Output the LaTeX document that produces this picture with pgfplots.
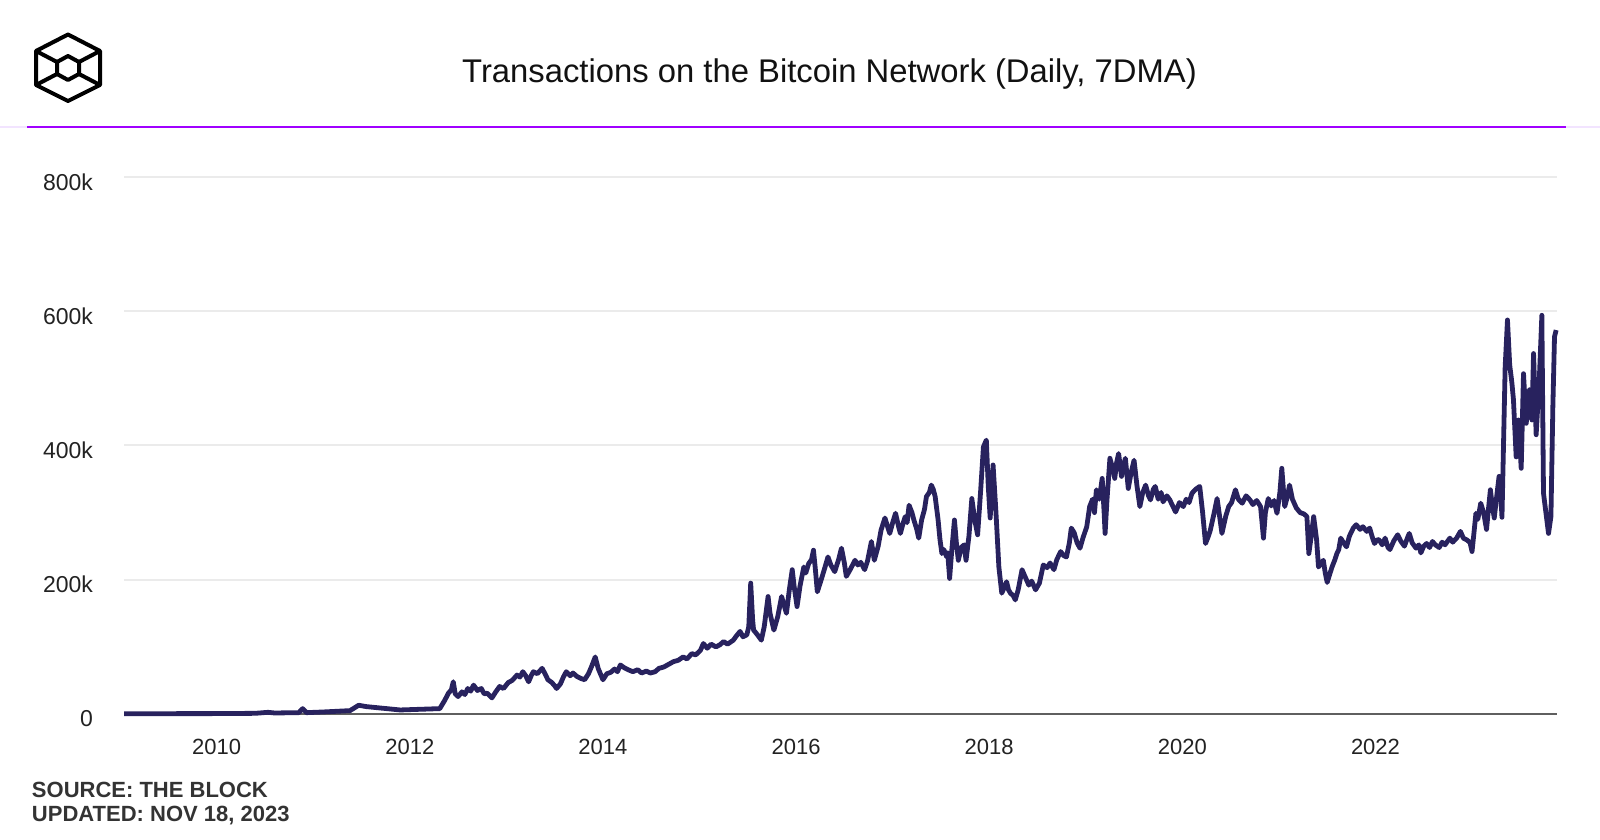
\documentclass[border=0pt]{standalone}
\usepackage{fontspec}
\setmainfont{Liberation Sans}
\usepackage{pgfplots}
\pgfplotsset{compat=1.18}
\definecolor{linecol}{RGB}{40,34,94}
\definecolor{gridcol}{RGB}{235,235,235}
\definecolor{axiscol}{RGB}{95,95,95}
\definecolor{tickcol}{RGB}{34,34,34}
\definecolor{titlecol}{RGB}{17,17,17}
\definecolor{srccol}{RGB}{51,51,51}
\definecolor{purp}{RGB}{160,0,255}
\definecolor{purpfaint}{RGB}{242,228,255}
\pgfplotstableread{
x y
2009.04 0.5
2009.5 0.5
2010.0 0.6
2010.4 1.0
2010.53 2.5
2010.6 1.5
2010.85 2
2010.89 8
2010.93 2
2011.1 3
2011.38 5
2011.47 13
2011.55 11
2011.9 6
2012.31 8
2012.36 20
2012.40 31
2012.43 36
2012.45 48
2012.47 30
2012.50 26
2012.54 33
2012.57 29
2012.60 38
2012.63 34
2012.66 43
2012.70 35
2012.74 38
2012.77 30
2012.80 31
2012.83 27
2012.85 24
2012.89 33
2012.93 41
2012.97 38
2013.02 47
2013.06 50
2013.11 58
2013.14 55
2013.17 63
2013.20 57
2013.23 48
2013.26 58
2013.28 63
2013.32 60
2013.37 68
2013.40 60
2013.43 51
2013.47 47
2013.50 42
2013.52 38
2013.56 45
2013.59 55
2013.62 63
2013.66 57
2013.69 61
2013.73 56
2013.77 53
2013.81 51
2013.85 60
2013.88 70
2013.92 85
2013.95 68
2014.00 51
2014.04 60
2014.08 62
2014.12 67
2014.15 63
2014.18 73
2014.22 69
2014.26 66
2014.31 63
2014.36 66
2014.40 61
2014.45 64
2014.49 61
2014.54 63
2014.58 68
2014.63 70
2014.68 74
2014.73 78
2014.78 80
2014.83 85
2014.87 82
2014.92 90
2014.96 88
2015.01 95
2015.04 105
2015.08 98
2015.12 104
2015.17 100
2015.21 103
2015.25 108
2015.29 104
2015.35 110
2015.38 116
2015.42 123
2015.45 115
2015.49 118
2015.51 130
2015.53 195
2015.55 140
2015.56 125
2015.60 118
2015.64 110
2015.67 130
2015.71 175
2015.73 150
2015.77 125
2015.81 145
2015.85 175
2015.88 160
2015.90 150
2015.93 185
2015.96 215
2015.98 190
2016.01 160
2016.04 190
2016.08 219
2016.10 210
2016.13 224
2016.16 230
2016.18 244
2016.20 215
2016.22 182
2016.26 200
2016.30 219
2016.33 234
2016.36 222
2016.40 212
2016.44 230
2016.47 247
2016.50 225
2016.52 205
2016.56 215
2016.61 229
2016.64 222
2016.67 226
2016.71 215
2016.74 228
2016.78 257
2016.81 229
2016.85 250
2016.88 274
2016.92 292
2016.95 278
2016.97 269
2017.00 285
2017.03 299
2017.06 280
2017.08 269
2017.11 285
2017.13 294
2017.15 285
2017.17 311
2017.20 300
2017.22 289
2017.25 275
2017.27 262
2017.30 289
2017.33 305
2017.35 324
2017.38 330
2017.40 341
2017.42 335
2017.44 324
2017.47 290
2017.49 260
2017.51 239
2017.53 245
2017.56 234
2017.57 240
2017.59 202
2017.61 240
2017.64 289
2017.66 255
2017.68 229
2017.71 248
2017.74 252
2017.76 229
2017.79 265
2017.82 321
2017.84 300
2017.85 289
2017.88 267
2017.91 330
2017.94 398
2017.97 408
2017.99 340
2018.01 292
2018.04 371
2018.07 300
2018.10 219
2018.13 180
2018.16 190
2018.18 197
2018.20 185
2018.22 180
2018.25 176
2018.27 170
2018.30 185
2018.34 215
2018.37 205
2018.41 192
2018.44 198
2018.48 185
2018.52 195
2018.56 222
2018.60 218
2018.63 225
2018.67 215
2018.70 230
2018.74 242
2018.77 236
2018.80 234
2018.83 255
2018.85 277
2018.88 270
2018.91 255
2018.94 247
2018.97 262
2019.01 279
2019.04 309
2019.07 320
2019.09 300
2019.11 334
2019.14 320
2019.17 351
2019.19 300
2019.20 269
2019.22 320
2019.25 381
2019.28 365
2019.30 351
2019.32 375
2019.34 388
2019.37 354
2019.39 370
2019.41 381
2019.44 336
2019.47 360
2019.50 378
2019.53 340
2019.56 309
2019.59 330
2019.62 341
2019.65 325
2019.67 319
2019.70 335
2019.72 339
2019.75 320
2019.78 330
2019.80 316
2019.84 325
2019.87 319
2019.90 310
2019.93 301
2019.97 315
2020.01 309
2020.04 320
2020.07 315
2020.10 329
2020.14 335
2020.18 339
2020.21 300
2020.24 254
2020.27 265
2020.29 274
2020.33 300
2020.36 321
2020.39 290
2020.41 269
2020.45 295
2020.48 309
2020.51 315
2020.55 334
2020.58 320
2020.62 314
2020.66 325
2020.70 319
2020.73 312
2020.77 318
2020.81 309
2020.84 262
2020.86 300
2020.89 321
2020.92 310
2020.95 318
2020.98 299
2021.01 330
2021.03 366
2021.06 309
2021.09 325
2021.11 341
2021.14 320
2021.18 307
2021.22 300
2021.26 298
2021.29 294
2021.31 239
2021.33 260
2021.36 294
2021.39 260
2021.41 219
2021.44 225
2021.46 229
2021.48 210
2021.50 196
2021.53 210
2021.55 219
2021.58 230
2021.60 239
2021.62 245
2021.64 262
2021.67 255
2021.70 249
2021.73 265
2021.77 277
2021.80 282
2021.84 275
2021.87 279
2021.91 272
2021.94 277
2021.97 262
2021.99 254
2022.02 260
2022.04 259
2022.07 252
2022.10 262
2022.13 248
2022.15 245
2022.19 258
2022.23 267
2022.26 258
2022.30 250
2022.33 262
2022.35 269
2022.38 255
2022.42 247
2022.45 252
2022.47 240
2022.50 250
2022.53 254
2022.56 248
2022.59 257
2022.62 252
2022.66 248
2022.69 256
2022.72 252
2022.75 258
2022.77 262
2022.80 256
2022.84 262
2022.88 272
2022.91 262
2022.95 259
2022.98 255
2023.00 242
2023.02 270
2023.04 299
2023.06 290
2023.09 314
2023.12 300
2023.15 275
2023.17 305
2023.19 334
2023.21 310
2023.23 292
2023.26 330
2023.28 354
2023.30 320
2023.31 293
2023.343 517
2023.367 587
2023.390 520
2023.413 493
2023.429 468
2023.457 383
2023.481 438
2023.509 366
2023.533 507
2023.561 433
2023.595 483
2023.620 438
2023.637 537
2023.664 416
2023.698 503
2023.723 594
2023.740 329
2023.792 269
2023.817 294
2023.837 458
2023.854 562
2023.871 572
}\txdata
\begin{document}
\begin{tikzpicture}[x=1pt,y=1pt]
\path[use as bounding box] (0,0) rectangle (800,420);
% header
\draw[purpfaint, line width=0.6pt] (0,356.5) -- (800,356.5);
\draw[purp, line width=1.2pt] (13.5,356.5) -- (783,356.5);
\node[font=\fontsize{16.4}{19}\selectfont, text=titlecol] at (414.75,383) {Transactions on the Bitcoin Network (Daily, 7DMA)};
% logo
\begin{scope}[line width=2pt, line join=round, black]
\draw (34,402.75) -- (50,394.5) -- (50,377.5) -- (34,369.5) -- (18,377.5) -- (18,394.5) -- cycle;
\draw (34,392) -- (39.5,389) -- (39.5,383) -- (34,380) -- (28.5,383) -- (28.5,389) -- cycle;
\draw (18,394.5) -- (28.5,389);
\draw (50,394.5) -- (39.5,389);
\draw (18,377.5) -- (28.5,383);
\draw (50,377.5) -- (39.5,383);
\end{scope}
\begin{axis}[
  at={(62pt,63pt)}, anchor=south west,
  scale only axis, width=716.5pt, height=268.5pt,
  xmin=2009.04, xmax=2023.88, ymin=0, ymax=800,
  axis x line*=bottom, axis y line*=left,
  y axis line style={draw=none},
  x axis line style={draw=axiscol, line width=1pt, -},
  major tick length=0pt,
  ytick={0,200,400,600,800},
  yticklabels={0,200k,400k,600k,800k},
  xtick={2010,2012,2014,2016,2018,2020,2022},
  xticklabels={2010,2012,2014,2016,2018,2020,2022},
  ymajorgrids,
  grid style={gridcol, line width=1pt},
  tick label style={font=\fontsize{11}{13}\selectfont, text=tickcol},
  yticklabel style={xshift=-12pt, yshift=-2.5pt, font=\fontsize{11.5}{13}\selectfont},
  xticklabel style={yshift=-9pt},
  clip=false,
]
\addplot[linecol, line width=2.4pt, line join=round] table[x=x,y=y] {\txdata};
\end{axis}
\node[anchor=west, font=\bfseries\fontsize{11}{13}\selectfont, text=srccol, inner sep=0pt] at (15.8,25) {SOURCE: THE BLOCK};
\node[anchor=west, font=\bfseries\fontsize{11}{13}\selectfont, text=srccol, inner sep=0pt] at (15.8,12.2) {UPDATED: NOV 18, 2023};
\end{tikzpicture}
\end{document}
